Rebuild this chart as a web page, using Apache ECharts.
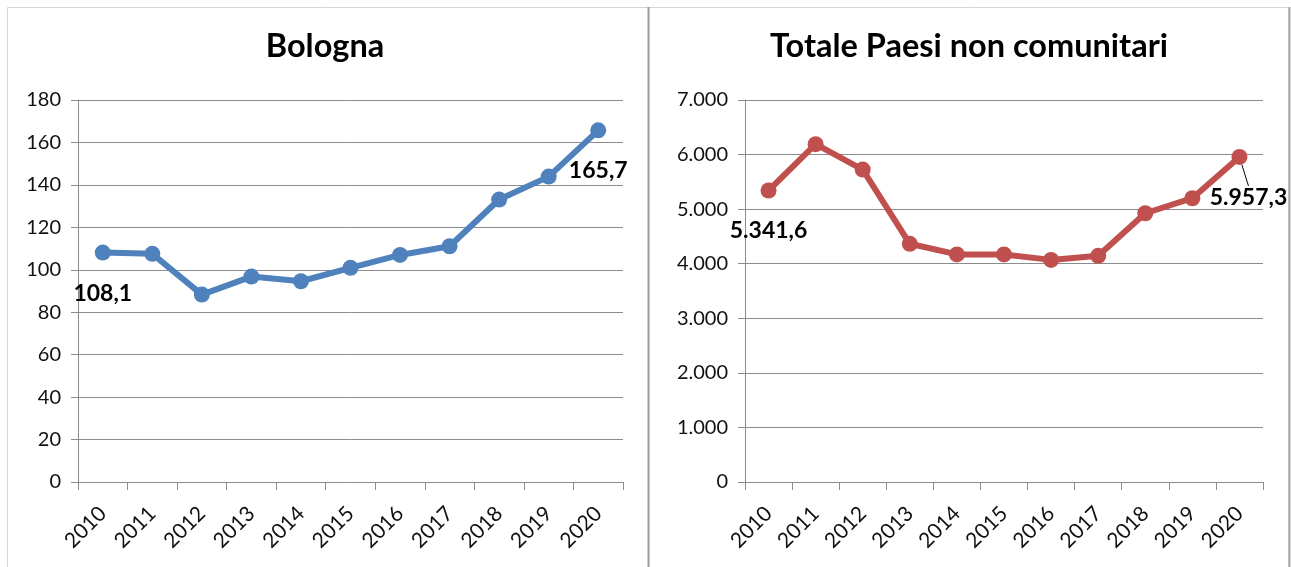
<!DOCTYPE html>
<html>
<head>
<meta charset="utf-8">
<script src="https://cdn.jsdelivr.net/npm/echarts@6/dist/echarts.min.js"></script>
<style>
html,body{margin:0;padding:0;background:#fff;}
#c{width:1291px;height:567px;}
</style>
</head>
<body>
<div id="c"></div>
<script>
const years = ['2010','2011','2012','2013','2014','2015','2016','2017','2018','2019','2020'];
const bolognaValues = [108.1, 107.5, 88.3, 96.8, 94.6, 100.9, 107.0, 111.1, 133.1, 143.9, 165.7];
const paesiValues = [5341.6, 6190, 5725, 4365, 4170, 4170, 4070, 4145, 4925, 5200, 5957.3];
const titles = ['Bologna', 'Totale Paesi non comunitari'];
const leftTicks = [0, 20, 40, 60, 80, 100, 120, 140, 160, 180];
const rightTicks = [0, 1000, 2000, 3000, 4000, 5000, 6000, 7000];

const FONT = 'Lato';
function itNum(v, dec) {
  const s = v.toFixed(dec);
  const parts = s.split('.');
  parts[0] = parts[0].replace(/\B(?=(\d{3})+(?!\d))/g, '.');
  return dec ? parts[0] + ',' + parts[1] : parts[0];
}
function buildData(vals, leaderOnLast) {
  const last = vals.length - 1;
  return vals.map((v, i) => {
    const item = { value: v, label: { show: i === 0 || i === last } };
    if (leaderOnLast) item.labelLine = { show: i === last };
    return item;
  });
}
const gridLine = { show: true, lineStyle: { color: '#8c8c8c', width: 1 } };
const axisLineStyle = { show: true, lineStyle: { color: '#8c8c8c', width: 1 } };

function xAxis(gi) {
  return {
    type: 'category', gridIndex: gi, data: years, boundaryGap: true,
    axisLine: axisLineStyle,
    axisTick: { show: true, length: 8, alignWithLabel: false, lineStyle: { color: '#8c8c8c' } },
    axisLabel: { rotate: 45, margin: 28, fontFamily: FONT, fontSize: 21, color: '#111', interval: 0 }
  };
}
function yAxis(gi, max, interval) {
  return {
    type: 'value', gridIndex: gi, min: 0, max: max, interval: interval,
    axisLine: axisLineStyle,
    axisTick: { show: true, length: 7, lineStyle: { color: '#8c8c8c' } },
    splitLine: gridLine,
    axisLabel: { margin: 17, fontFamily: FONT, fontSize: 20, color: '#111',
      formatter: v => itNum(v, 0) }
  };
}
function series(gi, vals, color, leader, extra) {
  return Object.assign({
    type: 'line', xAxisIndex: gi, yAxisIndex: gi, data: buildData(vals, leader),
    symbol: 'circle', symbolSize: 16,
    lineStyle: { color: color, width: 6 },
    itemStyle: { color: color },
    label: { show: false, position: 'bottom', distance: 21, fontFamily: FONT, fontWeight: 'bold',
      fontSize: 23, color: '#000', formatter: p => itNum(p.value, 1) },
    z: 3
  }, extra || {});
}

const chart = echarts.init(document.getElementById('c'), null, { renderer: 'canvas' });
chart.setOption({
  animation: false,
  backgroundColor: '#fff',
  title: [
    { text: titles[0], left: 320, top: 25, textAlign: 'center',
      textStyle: { fontFamily: FONT, fontWeight: 'bold', fontSize: 32.5, color: '#000' } },
    { text: titles[1], left: 964, top: 25, textAlign: 'center',
      textStyle: { fontFamily: FONT, fontWeight: 'bold', fontSize: 32.5, color: '#000' } }
  ],
  grid: [
    { left: 78, right: 668, top: 100, bottom: 85 },
    { left: 745, right: 28, top: 100, bottom: 85 }
  ],
  xAxis: [xAxis(0), xAxis(1)],
  yAxis: [yAxis(0, 180, 20), yAxis(1, 7000, 1000)],
  series: [
    series(0, bolognaValues, '#4F81BD', false),
    series(1, paesiValues, '#C0504D', true, {
      labelLine: { show: false, lineStyle: { color: '#000', width: 1 } },
      labelLayout: p => (p.dataIndex === paesiValues.length - 1 ? { dx: 9, dy: 0 } : {})
    })
  ],
  graphic: [
    { type: 'rect', shape: { x: 7.5, y: 7.5, width: 1281, height: 580 }, style: { fill: null, stroke: '#d6d6d6', lineWidth: 1 }, silent: true },
    { type: 'line', shape: { x1: 648.5, y1: 7, x2: 648.5, y2: 567 }, style: { stroke: '#9a9a9a', lineWidth: 2 }, silent: true },
    { type: 'line', shape: { x1: 1289.5, y1: 7, x2: 1289.5, y2: 567 }, style: { stroke: '#a8a8a8', lineWidth: 2 }, silent: true }
  ]
});
</script>
</body>
</html>
